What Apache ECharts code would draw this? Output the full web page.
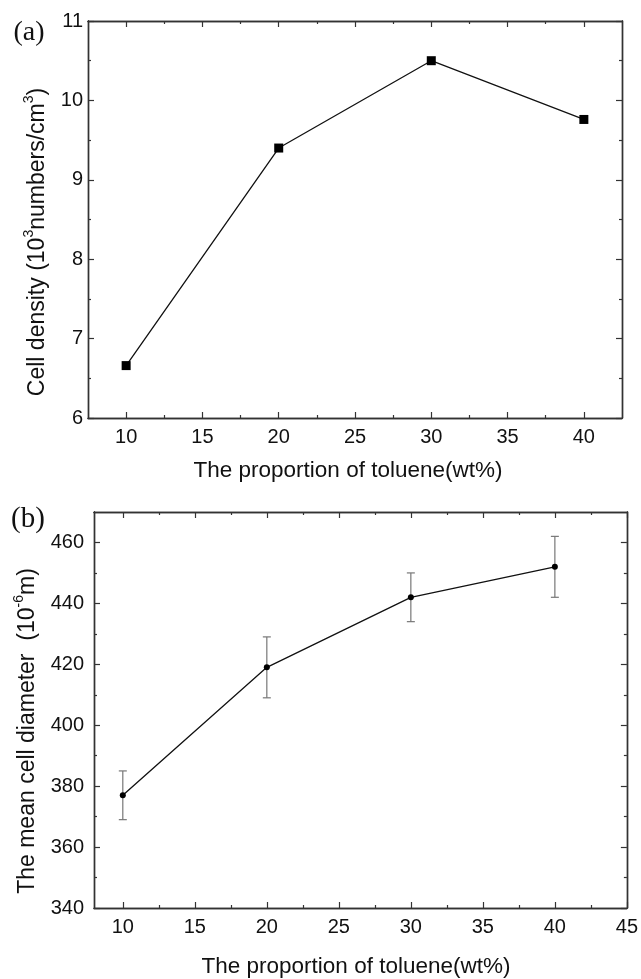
<!DOCTYPE html>
<html>
<head>
<meta charset="utf-8">
<script src="https://cdn.jsdelivr.net/npm/echarts@6/dist/echarts.min.js"></script>
<style>
html,body{margin:0;padding:0;background:#fff;}
#chart{width:641px;height:979px;}
</style>
</head>
<body>
<div id="chart"></div>
<script>
// ---- Data ----
const tolueneA = [10, 20, 30, 40];
const cellDensity = [6.66, 9.40, 10.50, 9.76];

const tolueneB = [10, 20, 30, 40];
const meanDiameter = [377, 419, 442, 452];
const diameterErr = [8, 10, 8, 10];

// tick values
const xMajorA = [10, 15, 20, 25, 30, 35, 40];
const xMinorA = [12.5, 17.5, 22.5, 27.5, 32.5, 37.5];
const yMajorA = [6, 7, 8, 9, 10, 11];
const yMinorA = [6.5, 7.5, 8.5, 9.5, 10.5];

const xMajorB = [10, 15, 20, 25, 30, 35, 40, 45];
const xMinorB = [12.5, 17.5, 22.5, 27.5, 32.5, 37.5, 42.5];
const yMajorB = [340, 360, 380, 400, 420, 440, 460];
const yMinorB = [350, 370, 390, 410, 430, 450];

// ---- Helpers ----
const AX = '#333';
const TXT = '#111';
const FONT = 'Liberation Sans, Arial, sans-serif';

function axisGroup(gridIndex, dim, min, max, major, minor, labelMargin) {
  const posMain = dim === 'x' ? 'bottom' : 'left';
  const posMirror = dim === 'x' ? 'top' : 'right';
  const make = (pos, ticks, len, labels) => ({
    type: 'value', gridIndex, position: pos, min, max,
    axisLine: { show: true, onZero: false, lineStyle: { color: AX, width: 1.4 } },
    axisTick: { show: true, inside: true, length: len, customValues: ticks, lineStyle: { color: AX, width: 1.2 } },
    axisLabel: labels ? { show: true, customValues: ticks, margin: labelMargin, fontSize: 20, color: TXT, fontFamily: FONT } : { show: false },
    splitLine: { show: false },
    minorTick: { show: false }
  });
  return [
    make(posMain, major, 6, true),
    make(posMain, minor, 3, false),
    make(posMirror, major, 6, false),
    make(posMirror, minor, 3, false)
  ];
}

const xAxes = [].concat(
  axisGroup(0, 'x', 7.5, 42.5, xMajorA, xMinorA, 9),
  axisGroup(1, 'x', 8, 45, xMajorB, xMinorB, 9)
);
const yAxes = [].concat(
  axisGroup(0, 'y', 6, 11, yMajorA, yMinorA, 5),
  axisGroup(1, 'y', 340, 470, yMajorB, yMinorB, 10)
);

const errData = tolueneB.map((x, i) => [x, meanDiameter[i] - diameterErr[i], meanDiameter[i] + diameterErr[i]]);

const option = {
  animation: false,
  backgroundColor: '#fff',
  grid: [
    { left: 88, top: 21, width: 534, height: 397 },
    { left: 94, top: 512, width: 533, height: 396 }
  ],
  xAxis: xAxes,
  yAxis: yAxes,
  series: [
    {
      type: 'line', xAxisIndex: 0, yAxisIndex: 0,
      data: tolueneA.map((x, i) => [x, cellDensity[i]]),
      symbol: 'rect', symbolSize: 9,
      itemStyle: { color: '#000' },
      lineStyle: { color: '#111', width: 1.3 },
      z: 3
    },
    {
      type: 'custom', xAxisIndex: 4, yAxisIndex: 4,
      data: errData,
      encode: { x: 0, y: [1, 2] },
      renderItem: function (params, api) {
        const x = api.value(0), lo = api.value(1), hi = api.value(2);
        const t = api.coord([x, hi]), b = api.coord([x, lo]);
        const w = 4;
        const st = { stroke: '#777', lineWidth: 1.2 };
        return {
          type: 'group',
          children: [
            { type: 'line', shape: { x1: t[0], y1: t[1], x2: b[0], y2: b[1] }, style: st },
            { type: 'line', shape: { x1: t[0] - w, y1: t[1], x2: t[0] + w, y2: t[1] }, style: st },
            { type: 'line', shape: { x1: b[0] - w, y1: b[1], x2: b[0] + w, y2: b[1] }, style: st }
          ]
        };
      },
      z: 2
    },
    {
      type: 'line', xAxisIndex: 4, yAxisIndex: 4,
      data: tolueneB.map((x, i) => [x, meanDiameter[i]]),
      symbol: 'circle', symbolSize: 6,
      itemStyle: { color: '#000' },
      lineStyle: { color: '#111', width: 1.3 },
      z: 3
    }
  ],
  graphic: [
    { type: 'text', x: 29, y: 33, style: { text: '(a)', font: '28px "Liberation Serif", serif', fill: '#111', align: 'center', verticalAlign: 'middle' } },
    { type: 'text', x: 28, y: 519, style: { text: '(b)', font: '29px "Liberation Serif", serif', fill: '#111', align: 'center', verticalAlign: 'middle' } },
    { type: 'text', x: 348, y: 471, style: { text: 'The proportion of toluene(wt%)', font: '22.5px "Liberation Sans", Arial, sans-serif', fill: TXT, align: 'center', verticalAlign: 'middle' } },
    { type: 'text', x: 356, y: 967, style: { text: 'The proportion of toluene(wt%)', font: '22.5px "Liberation Sans", Arial, sans-serif', fill: TXT, align: 'center', verticalAlign: 'middle' } },
    {
      type: 'text', x: 36, y: 242, rotation: Math.PI / 2,
      style: {
        text: '{m|Cell density (10}{s|3}{m|numbers/cm}{s|3}{m|)}',
        align: 'center', verticalAlign: 'middle',
        rich: {
          m: { fontSize: 23, fontFamily: FONT, fill: TXT, color: TXT, lineHeight: 27, verticalAlign: 'bottom' },
          s: { fontSize: 14, fontFamily: FONT, fill: TXT, color: TXT, lineHeight: 27, verticalAlign: 'top' }
        }
      }
    },
    {
      type: 'text', x: 26, y: 731, rotation: Math.PI / 2,
      style: {
        text: '{m|The mean cell diameter  (10}{s|-6}{m|m)}',
        align: 'center', verticalAlign: 'middle',
        rich: {
          m: { fontSize: 23, fontFamily: FONT, fill: TXT, color: TXT, lineHeight: 27, verticalAlign: 'bottom' },
          s: { fontSize: 14, fontFamily: FONT, fill: TXT, color: TXT, lineHeight: 27, verticalAlign: 'top' }
        }
      }
    }
  ]
};

const chart = echarts.init(document.getElementById('chart'), null, { renderer: 'canvas' });
chart.setOption(option);
</script>
</body>
</html>
